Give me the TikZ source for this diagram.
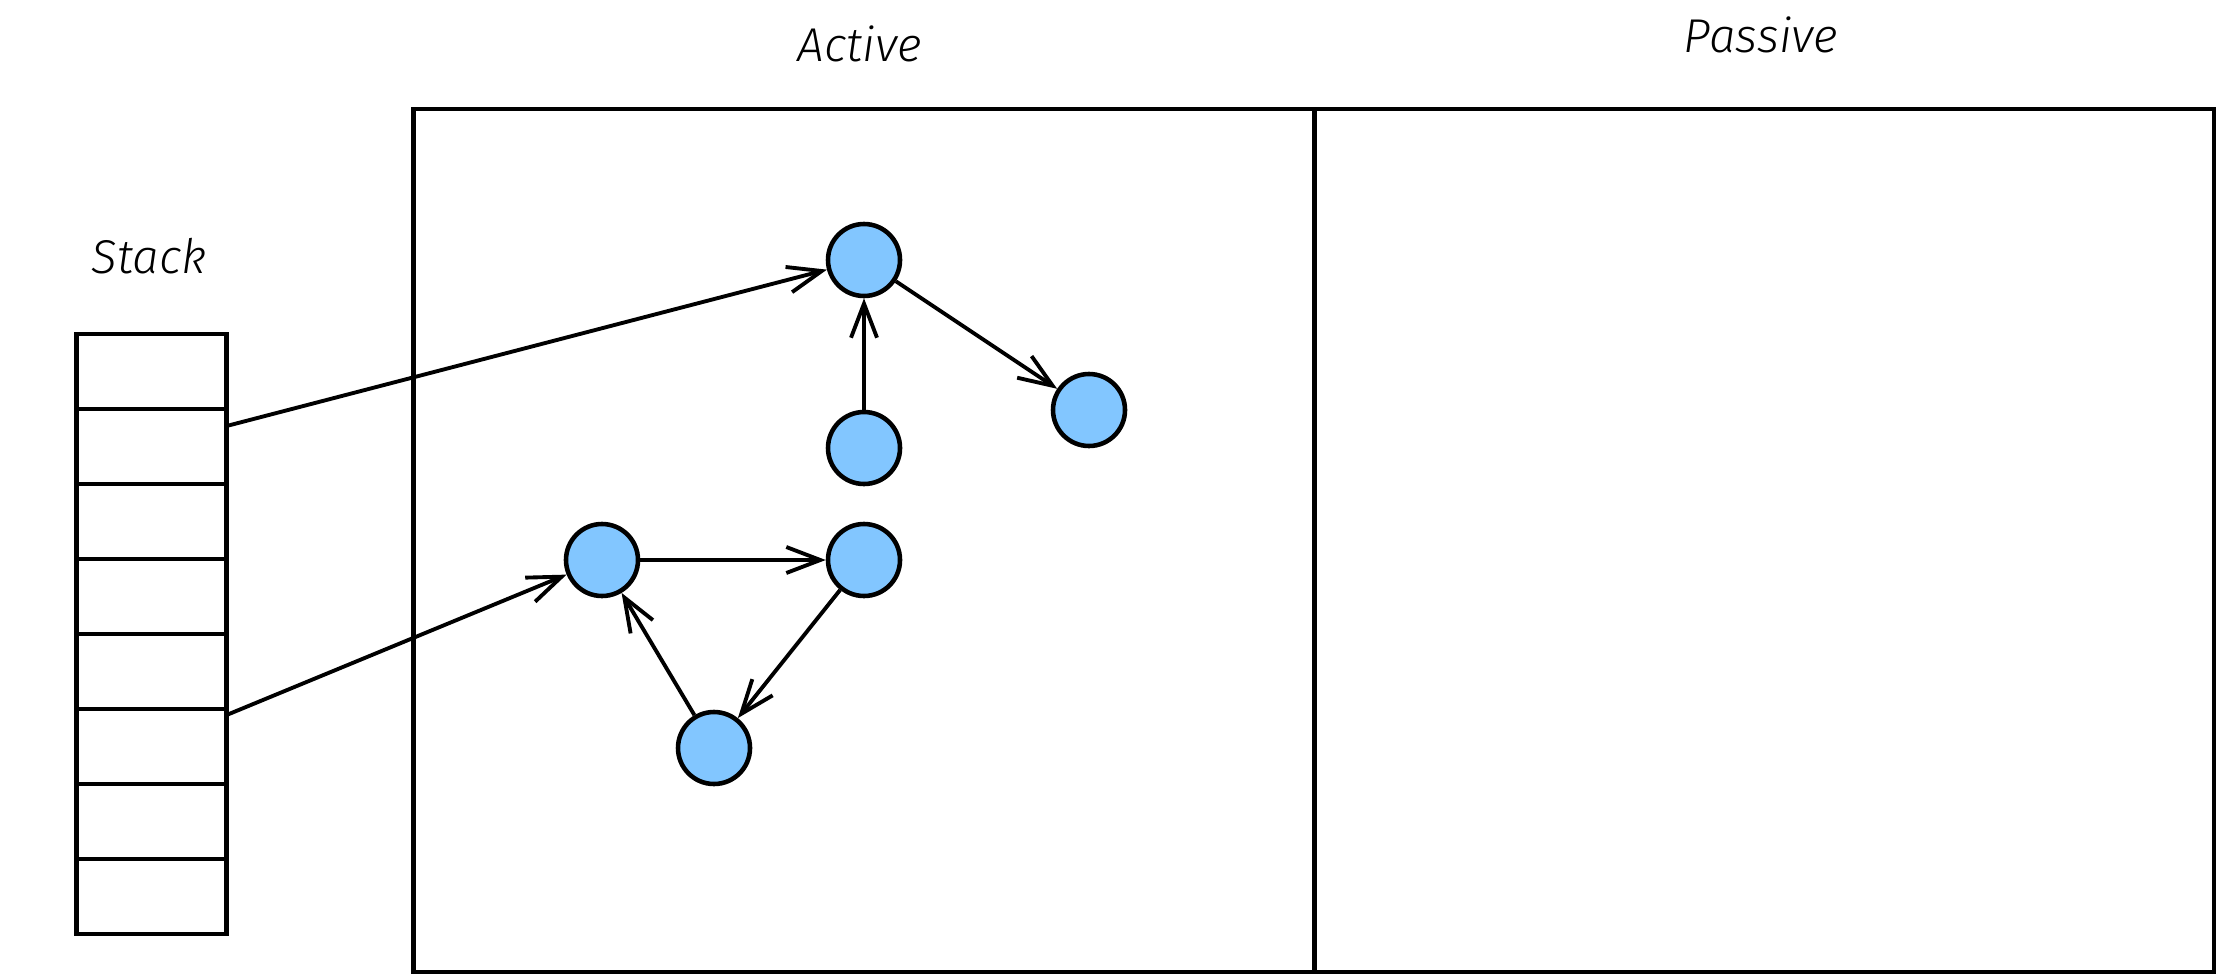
\documentclass[tikz,border=0pt]{standalone}
\usepackage{fontspec}
\setmainfont{Fira Sans Light}[ItalicFont={Fira Sans Light Italic}]
\usetikzlibrary{arrows.meta}
\definecolor{nodeblue}{RGB}{130,198,255}
\begin{document}
\begin{tikzpicture}[x=1cm,y=1cm,
  line width=1.25pt,
  vertex/.style={circle,draw,fill=nodeblue,minimum size=0.72cm,inner sep=0pt,line width=1.3pt},
  cell/.style={draw,minimum width=1.5cm,minimum height=0.75cm,inner sep=0pt,outer sep=0pt,line width=1.3pt},
  panel/.style={draw,inner sep=0pt,outer sep=0pt,line width=1.3pt},
  heading/.style={font=\fontsize{13.5}{16}\selectfont\itshape},
  edge/.style={line width=1.1pt,-{Straight Barb[length=0.34cm,width=0.26cm]}}]
\useasboundingbox (0,0) rectangle (22.21,-9.79);

% panels
\node[panel,minimum width=9.01cm,minimum height=8.63cm,anchor=north west] (active) at (4.136,-1.09) {};
\node[panel,minimum width=8.995cm,minimum height=8.63cm,anchor=north west] (passive) at (13.145,-1.09) {};
\node[heading] (activelbl) at (8.6,-0.44) {Active};
\node[heading] (passivelbl) at (17.61,-0.35) {Passive};

% stack of eight cells
\foreach \i in {1,...,8}{
  \node[cell,anchor=north west] (cell\i) at (0.766,{-3.34-0.75*(\i-1)}) {};
}
\node[heading] (stacklbl) at (1.49,-2.56) {Stack};

% vertices
\node[vertex] (a) at (8.64,-2.60) {};
\node[vertex] (b) at (10.89,-4.10) {};
\node[vertex] (c) at (8.64,-4.48) {};
\node[vertex] (d) at (6.02,-5.60) {};
\node[vertex] (e) at (8.64,-5.60) {};
\node[vertex] (f) at (7.14,-7.48) {};

% references from stack cells
\coordinate (r1) at (2.266,-4.26);
\coordinate (r2) at (2.266,-7.15);
\draw[edge] (r1) -- (a);
\draw[edge] (r2) -- (d);

% edges between vertices
\draw[edge] (c) -- (a);
\draw[edge] (a) -- (b);
\draw[edge] (d) -- (e);
\draw[edge] (e) -- (f);
\draw[edge] (f) -- (d);
\end{tikzpicture}
\end{document}
